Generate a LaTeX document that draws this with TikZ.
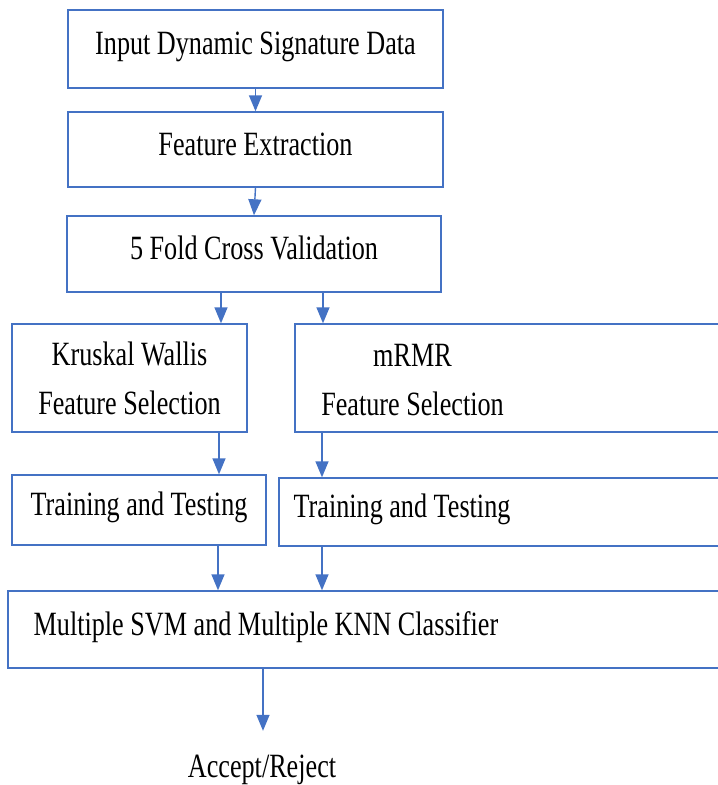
\documentclass[tikz,border=0pt]{standalone}
\usepackage{fontspec}
\setmainfont{Liberation Serif}[FakeStretch=0.77]
\usepackage{tikz}
\usetikzlibrary{arrows.meta}
\definecolor{flowblue}{RGB}{68,114,196}

\begin{document}
\begin{tikzpicture}[x=1pt,y=-1pt,>={Triangle[width=13pt,length=16pt]},
  font=\fontsize{34}{49}\selectfont,
  txt/.style={inner sep=0pt,text height=23pt,text depth=12pt},
  box/.style={txt,draw=flowblue,line width=1.4pt},
  twoline/.style={inner sep=0pt,align=center},
  arr/.style={->,flowblue,line width=1.4pt}]
  \useasboundingbox (0,0) rectangle (718,785);
  \clip (0,0) rectangle (718,785);
  % main column
  \node[box,minimum width=375pt,minimum height=78pt] (inp) at (255.5,49) {Input Dynamic Signature Data};
  \node[box,minimum width=375pt,minimum height=75pt] (fe) at (255.5,149.5) {Feature Extraction};
  \node[box,minimum width=374pt,minimum height=76pt] (cv) at (254,254) {5 Fold Cross Validation};
  % two branches (right boxes run past the edge)
  \node[twoline,draw=flowblue,line width=1.4pt,minimum width=235pt,minimum height=108pt] (kw) at (129.5,378) {Kruskal Wallis\\Feature Selection};
  \node[draw=flowblue,line width=1.4pt,minimum width=450pt,minimum height=108pt] (mr) at (520,378) {};
  \node[twoline] (mrtext) at (412.5,380) {mRMR\\Feature Selection};
  \node[box,minimum width=254pt,minimum height=70pt] (tt1) at (139,510) {Training and Testing};
  \node[draw=flowblue,line width=1.4pt,minimum width=466pt,minimum height=68pt] (tt2) at (512,512) {};
  \node[txt] (tt2text) at (402,512) {Training and Testing};
  \node[draw=flowblue,line width=1.4pt,minimum width=737pt,minimum height=77pt] (cls) at (376.5,629.5) {};
  \node[txt] (clstext) at (266,629.5) {Multiple SVM and Multiple KNN Classifier};
  \node[anchor=base,inner sep=0pt,text height=23pt] (out) at (262,777) {Accept/Reject};

  \draw[arr] (inp.south) -- (fe.north);
  \draw[arr] (fe.south) -- (cv.north);
  \draw[arr] ([xshift=-33pt]cv.south) -- ([xshift=91.5pt]kw.north);
  \draw[arr] ([xshift=69pt]cv.south) -- ([xshift=-197pt]mr.north);
  \draw[arr] ([xshift=89.5pt]kw.south) -- ([xshift=80pt]tt1.north);
  \draw[arr] ([xshift=-198pt]mr.south) -- ([xshift=-190pt]tt2.north);
  \draw[arr] ([xshift=79pt]tt1.south) -- ([xshift=-158.5pt]cls.north);
  \draw[arr] ([xshift=-190pt]tt2.south) -- ([xshift=-54.5pt]cls.north);
  \draw[arr,shorten >=23pt] ([xshift=-113.5pt]cls.south) -- ([xshift=1pt]out.north);
\end{tikzpicture}
\end{document}
